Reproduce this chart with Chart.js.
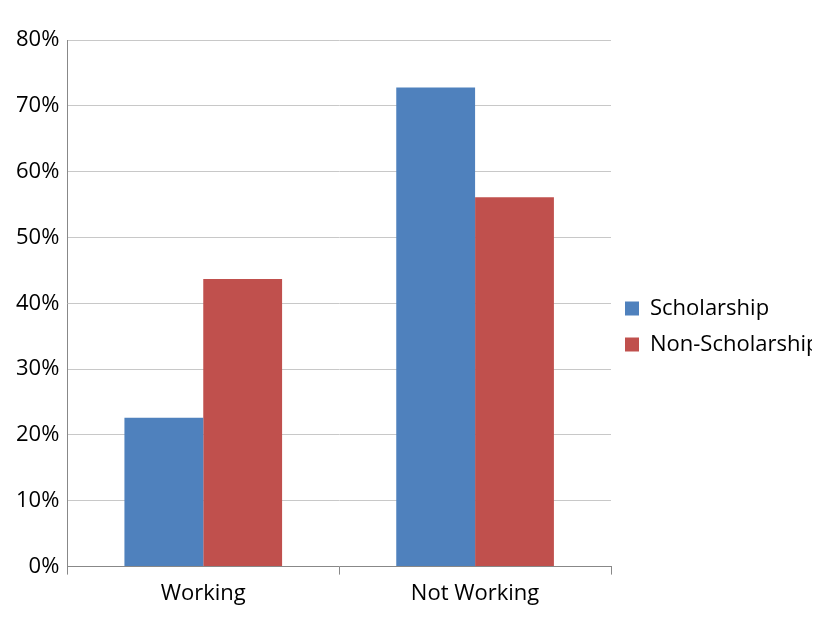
<!DOCTYPE html>
<html lang="en">
<head>
<meta charset="UTF-8">
<title>Scholarship</title>
<style>
  body { margin: 0; background: #fff; }
</style>
</head>
<body>
<canvas id="myChart" width="820" height="627"></canvas>
<script src="https://cdn.jsdelivr.net/npm/chart.js"></script>
<script>
  const categories = ['Working', 'Not Working'];
  const scholarship = [22.6, 72.8];
  const nonScholarship = [43.7, 56.1];

  const ctx = document.getElementById('myChart');
  Chart.defaults.font.family = "'Open Sans', sans-serif";
  Chart.defaults.color = '#000';

  new Chart(ctx, {
    type: 'bar',
    data: {
      labels: categories,
      datasets: [
        { label: 'Scholarship', data: scholarship, backgroundColor: '#4F81BD' },
        { label: 'Non-Scholarship', data: nonScholarship, backgroundColor: '#C0504D' }
      ]
    },
    options: {
      responsive: false,
      animation: false,
      devicePixelRatio: 1,
      categoryPercentage: 0.58,
      barPercentage: 1,
      layout: { padding: { top: 40, left: 8, right: 8, bottom: 14 } },
      scales: {
        x: {
          grid: { drawOnChartArea: false, tickLength: 8, color: '#888' },
          border: { color: '#888' },
          ticks: { font: { size: 22 }, padding: 6 }
        },
        y: {
          min: 0, max: 80,
          ticks: { stepSize: 10, font: { size: 22 }, callback: v => v + '%', padding: 8 },
          grid: { color: '#c8c8c8', drawTicks: false },
          border: { color: '#888' }
        }
      },
      plugins: {
        legend: {
          position: 'right',
          labels: { font: { size: 22 }, boxWidth: 14, boxHeight: 14, padding: 14 }
        },
        tooltip: { enabled: false }
      }
    }
  });
</script>
</body>
</html>
